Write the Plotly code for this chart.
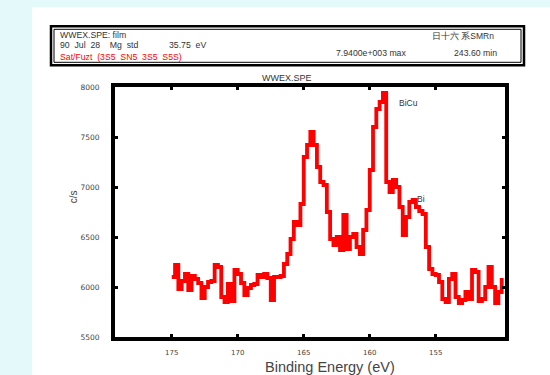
import plotly.graph_objects as go

# ---- data ----
binding_energy = [175.0 - 0.25 * k for k in range(101)]
counts = [
    6100, 6220, 5980, 6060, 6130, 5970, 6110, 6080, 6040, 5890,
    6000, 6050, 6060, 6220, 6200, 5900, 5850, 6030, 5860, 6170,
    6130, 6040, 5920, 5990, 6020, 6030, 6120, 6100, 6130, 6090,
    5870, 6100, 6100, 6110, 6230, 6330, 6480, 6650, 6620, 6830,
    7300, 7420, 7550, 7420, 7200, 7050, 7020, 6750, 6480, 6420,
    6500, 6370, 6720, 6380, 6500, 6530, 6400, 6330, 6570, 6770,
    7170, 7600, 7780, 7850, 7940, 7050, 6950, 7070, 7000, 6800,
    6520, 6700, 6850, 6870, 6800, 6760, 6730, 6400, 6180, 6130,
    6120, 6050, 5880, 5850, 6080, 6130, 5900, 5840, 5870, 5950,
    5880, 6170, 6150, 5860, 5880, 6000, 6200, 6000, 5840, 5950,
    6090,
]
x_ticks = [175, 170, 165, 160, 155]
x_tick_labels = ["175", "170", "165", "160", "155"]
y_ticks = [5500, 6000, 6500, 7000, 7500, 8000]
y_tick_labels = ["5500", "6000", "6500", "7000", "7500", "8000"]
peak_labels = ["BiCu", "Bi"]
peak_pos = [(157.95, 7840), (156.55, 6880)]

W, H = 550, 375
L, R, T, B = 115, 505, 86.7, 336.7
FONT = "Liberation Sans"
TICKFONT = "DejaVu Sans"


def px(x):
    return (x - L) / (R - L)


def py(y):
    return (B - y) / (B - T)


fig = go.Figure()
fig.add_trace(go.Scatter(
    x=binding_energy, y=counts, mode="lines",
    line=dict(color="#ff0000", width=3.8, shape="hv"),
    hoverinfo="skip", showlegend=False,
))

fig.update_xaxes(
    range=[179.3, 149.75], tickvals=x_ticks, ticktext=x_tick_labels,
    showgrid=False, zeroline=False, showline=True, mirror="ticks",
    linecolor="black", linewidth=4, ticks="inside", ticklen=3,
    tickwidth=3, tickcolor="black",
    tickfont=dict(family=TICKFONT, size=7, color="#444"), ticklabelstandoff=6,
)
fig.update_yaxes(
    range=[5500, 8000], tickvals=y_ticks, ticktext=y_tick_labels,
    showgrid=False, zeroline=False, showline=True, mirror="ticks",
    linecolor="black", linewidth=4, ticks="inside", ticklen=3,
    tickwidth=3, tickcolor="black",
    tickfont=dict(family=TICKFONT, size=7.5, color="#444"), ticklabelstandoff=10,
)

shapes = [
    # white page over cyan background
    dict(type="rect", xref="paper", yref="paper", x0=px(32), x1=px(560),
         y0=py(380), y1=py(7), fillcolor="white", line=dict(width=0),
         layer="below"),
    # header box (double border)
    dict(type="rect", xref="paper", yref="paper", x0=px(51), x1=px(524),
         y0=py(65), y1=py(26), fillcolor="rgba(0,0,0,0)",
         line=dict(color="black", width=2.5)),
    dict(type="rect", xref="paper", yref="paper", x0=px(54), x1=px(521),
         y0=py(62), y1=py(29), fillcolor="rgba(0,0,0,0)",
         line=dict(color="black", width=1)),
]

annots = []


def txt(x, y, s, size=8.7, color="#333", xanchor="left", angle=0):
    annots.append(dict(
        xref="paper", yref="paper", x=px(x), y=py(y), text=s,
        showarrow=False, xanchor=xanchor, yanchor="middle", textangle=angle,
        font=dict(family=FONT, size=size, color=color),
    ))


txt(58, 35, "WWEX.SPE: film")
txt(58, 45, "90  Jul  28    Mg  std")
txt(167, 45, "35.75  eV")
txt(58, 57, "Sat/Fuzt  (3S5  SN5  3S5  S5S)", color="#ff0000")
txt(334, 53, "7.9400e+003 max")
txt(430, 36, "日十六 系SMRn", size=8.5)
txt(452, 53, "243.60 min")
txt(287, 78, "WWEX.SPE", size=9, xanchor="center")
txt(330, 367, "Binding Energy (eV)", size=14.5, color="#444", xanchor="center")
txt(73, 197, "c/s", size=10, color="#444", xanchor="center", angle=-90)

for lab, (e, v) in zip(peak_labels, peak_pos):
    annots.append(dict(
        x=e, y=v, xref="x", yref="y", text=lab, showarrow=False,
        xanchor="left", yanchor="middle",
        font=dict(family=FONT, size=8.5, color="#333"),
    ))

fig.update_layout(
    width=W, height=H,
    margin=dict(l=L, r=W - R, t=T, b=H - B, pad=0),
    paper_bgcolor="#e4fafa", plot_bgcolor="white",
    shapes=shapes, annotations=annots, showlegend=False,
)

fig.write_html(
    "out.html",
    config={"displayModeBar": False},
    post_script="document.body.style.margin='0';document.body.style.overflow='hidden';",
)
